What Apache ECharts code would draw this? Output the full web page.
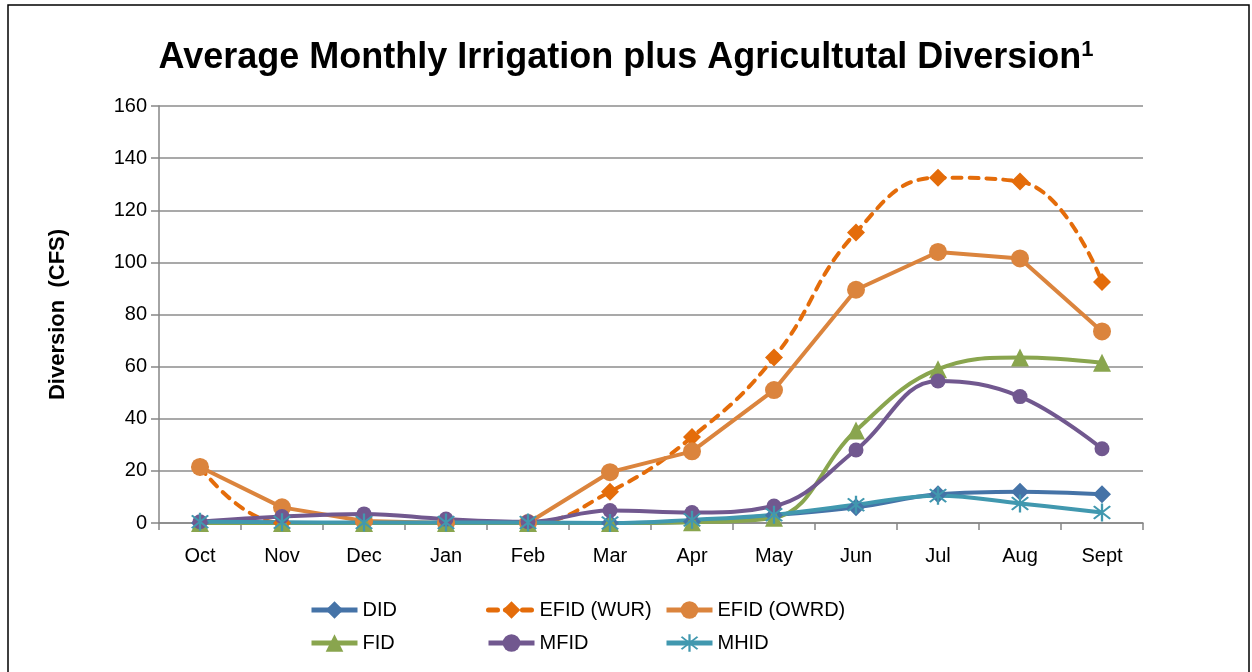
<!DOCTYPE html>
<html>
<head>
<meta charset="utf-8">
<script src="https://cdn.jsdelivr.net/npm/echarts@6/dist/echarts.min.js"></script>
<style>
  html, body { margin: 0; padding: 0; background: #fff; }
  #chart { width: 1252px; height: 672px; }
</style>
</head>
<body>
<div id="chart"></div>
<script>
// 月份
const months = ['Oct', 'Nov', 'Dec', 'Jan', 'Feb', 'Mar', 'Apr', 'May', 'Jun', 'Jul', 'Aug', 'Sept'];

// 各灌区月均引水量 (CFS)
const didData   = [0, 0, 0, 0, 0, 0, 0.5, 3, 6, 11, 12, 11];
const efidWur   = [21.5, 0, 0, 0, 0, 12, 33, 63.5, 111.5, 132.5, 131, 92.5];
const efidOwrd  = [21.5, 6, 0.8, 0, 0, 19.5, 27.5, 51, 89.5, 104, 101.5, 73.5];
const fidData   = [0, 0, 0, 0, 0, 0, 0.3, 2, 35.5, 59, 63.5, 61.5];
const mfidData  = [0.5, 2.5, 3.5, 1.5, 0.5, 4.8, 4, 6.5, 28, 54.5, 48.5, 28.5];
const mhidData  = [0.5, 0.3, 0.2, 0.2, 0.2, 0, 1.2, 3.2, 7, 10.5, 7.5, 4];

const FONT = '"Liberation Sans", "DejaVu Sans", sans-serif';

// 星号标记
const asterisk = 'path://M-1,-10L1,-10L1,10L-1,10Z M-7.8,-6.4L-6.4,-7.8L7.8,6.4L6.4,7.8Z M6.4,-7.8L7.8,-6.4L-6.4,7.8L-7.8,6.4Z';

function lineSeries(name, data, color, symbol, size, opts) {
  return Object.assign({
    name: name,
    type: 'line',
    data: data,
    symbol: symbol,
    symbolSize: size,
    lineStyle: { color: color, width: 4 },
    itemStyle: { color: color },
    emphasis: { disabled: true }
  }, opts || {});
}

const names = ['DID', 'EFID (WUR)', 'EFID (OWRD)', 'FID', 'MFID', 'MHID'];
const legendPos = [
  [304, 595], [481, 595], [659, 595],
  [304, 628], [481, 628], [659, 628]
];

const chart = echarts.init(document.getElementById('chart'));
chart.setOption({
  backgroundColor: '#fff',
  animation: false,
  title: {
    text: 'Average Monthly Irrigation plus Agricultutal Diversion{sup|1}',
    left: 'center',
    top: 34,
    textStyle: {
      fontFamily: FONT,
      fontWeight: 'bold',
      fontSize: 36,
      color: '#000',
      rich: {
        sup: { fontFamily: FONT, fontWeight: 'bold', fontSize: 22, verticalAlign: 'top', padding: [0, 0, 16, 0] }
      }
    }
  },
  graphic: [{
    type: 'rect',
    shape: { x: 8, y: 5, width: 1241, height: 720 },
    style: { fill: 'none', stroke: '#000', lineWidth: 1.5 },
    silent: true
  }],
  legend: names.map((n, i) => ({
    data: [n],
    left: legendPos[i][0],
    top: legendPos[i][1],
    itemWidth: 46,
    itemHeight: 22,
    itemGap: 8,
    lineStyle: { width: 5 },
    textStyle: { fontFamily: FONT, fontSize: 20, color: '#000' }
  })),
  grid: { left: 159, right: 109, top: 106, bottom: 149 },
  xAxis: {
    type: 'category',
    data: months,
    boundaryGap: true,
    axisLine: { lineStyle: { color: '#868686', width: 1.5 } },
    axisTick: { show: true, length: 7, lineStyle: { color: '#868686', width: 1.5 } },
    axisLabel: { fontFamily: FONT, fontSize: 20, color: '#000', margin: 23 }
  },
  yAxis: {
    type: 'value',
    min: 0,
    max: 160,
    interval: 20,
    name: 'Diversion  (CFS)',
    nameLocation: 'middle',
    nameGap: 90,
    nameTextStyle: { fontFamily: FONT, fontSize: 22, fontWeight: 'bold', color: '#000' },
    axisLine: { show: true, lineStyle: { color: '#868686', width: 1.5 } },
    axisTick: { show: true, length: 8, lineStyle: { color: '#868686', width: 1.5 } },
    axisLabel: { fontFamily: FONT, fontSize: 20, color: '#000', margin: 12 },
    splitLine: { lineStyle: { color: '#8c8c8c', width: 1.5 } }
  },
  series: [
    lineSeries('DID', didData, '#4573A7', 'diamond', 18, { smooth: 0.4 }),
    lineSeries('EFID (WUR)', efidWur, '#E46C0A', 'diamond', 18, {
      smooth: 0.45,
      lineStyle: { color: '#E46C0A', width: 4, type: [9, 8], cap: 'round' }
    }),
    lineSeries('EFID (OWRD)', efidOwrd, '#DB843D', 'circle', 18),
    lineSeries('FID', fidData, '#89A54E', 'triangle', 18, { smooth: 0.4 }),
    lineSeries('MFID', mfidData, '#71588F', 'circle', 15, { smooth: 0.4 }),
    lineSeries('MHID', mhidData, '#4198AF', asterisk, 18, { smooth: 0.4 })
  ]
});
</script>
</body>
</html>
